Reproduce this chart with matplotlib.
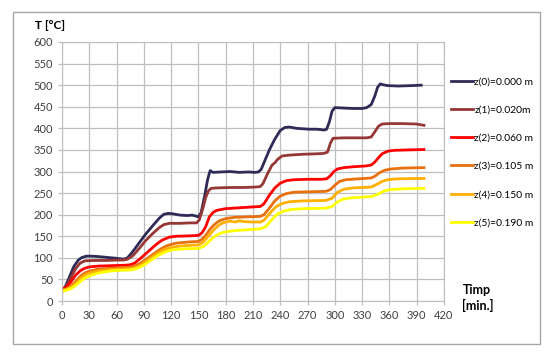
import numpy as np
import matplotlib.pyplot as plt
from matplotlib.patches import Rectangle

# temperaturi citite pe grafic (t in minute, T in grade C)
t0 = [0, 3, 8, 13, 18, 22, 27, 32, 40, 50, 60, 68, 72, 78, 85, 92, 100, 107, 112, 117, 122, 130, 138, 143, 147, 150,
      153, 157, 160, 162, 163, 166, 175, 185, 195, 205, 212, 216, 219, 223, 228, 234, 240, 245, 250, 258, 265, 272,
      280, 285, 288, 291, 294, 297, 300, 310, 320, 330, 335, 340, 344, 347, 350, 353, 358, 370, 385, 395]
T0 = [22, 30, 55, 80, 95, 101, 104, 104, 103, 101, 99, 97, 100, 115, 135, 155, 175, 192, 201, 203, 202, 199, 198, 199,
      197, 195, 205, 245, 280, 296, 302, 298, 299, 300, 298, 299, 298, 299, 305, 325, 350, 375, 395, 402, 403, 400,
      399, 398, 398, 397, 396, 398, 415, 440, 448, 447, 446, 446, 448, 455, 475, 495, 503, 501, 499, 498, 499, 500]

t1 = [0, 5, 10, 15, 20, 25, 35, 50, 60, 68, 72, 78, 85, 92, 100, 107, 112, 118, 130, 140, 148, 151, 155, 158, 161,
      164, 170, 185, 200, 212, 218, 221, 226, 231, 234, 237, 242, 250, 265, 280, 288, 292, 295, 298, 310, 325, 335,
      340, 344, 348, 352, 360, 375, 390, 398]
T1 = [27, 35, 55, 75, 88, 93, 94, 94, 95, 95, 97, 105, 122, 140, 157, 170, 177, 180, 180, 181, 181, 188, 215, 240,
      255, 261, 262, 263, 263, 264, 265, 272, 295, 315, 320, 328, 336, 338, 340, 341, 342, 345, 365, 377, 378, 378,
      378, 380, 392, 405, 410, 411, 411, 410, 407]

t2 = [0, 5, 10, 15, 20, 25, 30, 40, 55, 70, 75, 80, 87, 95, 103, 110, 118, 125, 140, 150, 154, 158, 162, 166, 170,
      180, 195, 210, 218, 222, 228, 234, 240, 247, 255, 270, 285, 291, 295, 299, 303, 310, 320, 335, 340, 344, 348,
      352, 358, 365, 380, 398]
T2 = [27, 32, 45, 60, 70, 76, 79, 81, 82, 83, 84, 88, 100, 115, 130, 141, 148, 150, 151, 152, 158, 172, 195, 205,
      210, 214, 216, 218, 219, 225, 245, 262, 273, 279, 281, 282, 282, 283, 290, 300, 306, 309, 311, 313, 315, 322,
      332, 341, 347, 349, 350, 351]

t3 = [0, 5, 10, 15, 20, 25, 30, 40, 55, 72, 78, 85, 92, 100, 108, 115, 125, 140, 150, 154, 158, 163, 168, 173, 180,
      190, 205, 218, 222, 228, 234, 240, 247, 255, 270, 290, 295, 300, 305, 312, 325, 340, 344, 349, 355, 362, 375, 398]
T3 = [25, 28, 35, 45, 57, 65, 69, 74, 76, 78, 80, 86, 96, 108, 120, 128, 134, 137, 138, 143, 152, 167, 178, 186,
      191, 194, 195, 196, 200, 215, 232, 243, 249, 252, 253, 254, 258, 268, 277, 281, 283, 285, 289, 297, 303, 306,
      308, 309]

t4 = [0, 5, 10, 15, 20, 25, 30, 40, 55, 75, 80, 87, 95, 103, 110, 118, 128, 140, 150, 155, 160, 166, 172, 176, 180,
      185, 190, 195, 200, 210, 218, 222, 228, 235, 242, 250, 265, 290, 297, 303, 310, 320, 340, 346, 352, 358, 368, 398]
T4 = [24, 27, 32, 40, 52, 60, 65, 70, 73, 75, 77, 84, 96, 108, 117, 123, 127, 129, 130, 136, 148, 163, 175, 180,
      183, 185, 183, 186, 184, 183, 183, 187, 202, 218, 226, 230, 232, 233, 238, 252, 259, 262, 264, 270, 277, 281,
      283, 284]

t5 = [0, 5, 10, 15, 20, 25, 30, 40, 55, 75, 82, 90, 98, 106, 114, 122, 135, 150, 156, 162, 168, 174, 182, 195, 210,
      218, 224, 230, 236, 243, 252, 265, 290, 297, 303, 309, 318, 340, 347, 353, 360, 375, 398]
T5 = [22, 25, 29, 36, 45, 53, 58, 65, 70, 72, 75, 83, 95, 106, 114, 119, 121, 122, 127, 139, 150, 157, 161, 164,
      166, 167, 172, 187, 200, 208, 212, 214, 215, 219, 230, 236, 239, 242, 247, 254, 258, 260, 261]

labels = ["z(0)=0.000 m", "z(1)=0.020m", "z(2)=0.060 m", "z(3)=0.105 m", "z(4)=0.150 m", "z(5)=0.190 m"]
culori = ["#2E2B57", "#953735", "#FF0000", "#E8700F", "#FFB000", "#FFFF00"]
serii = [(t0, T0), (t1, T1), (t2, T2), (t3, T3), (t4, T4), (t5, T5)]

plt.rcParams['font.family'] = ['Lato', 'DejaVu Sans']

fig = plt.figure(figsize=(5.5, 3.55), dpi=100)
ax = fig.add_axes([0.1127, 0.152, 0.6945, 0.7297])

# chenarul exterior
fig.patches.append(Rectangle((0.0236, 0.031), 0.958, 0.935, transform=fig.transFigure,
                             fill=False, edgecolor="#A6A6A6", lw=1))

for (t, T), c, lab in zip(serii, culori, labels):
    ax.plot(t, T, color=c, lw=2.0, label=lab)

ax.set_xlim(0, 420)
ax.set_ylim(0, 600)
ax.set_xticks(np.arange(0, 421, 30))
ax.set_yticks(np.arange(0, 601, 50))
ax.grid(True, color="#BFBFBF", lw=0.9)
ax.set_axisbelow(True)
for s in ax.spines.values():
    s.set_color("#BFBFBF")
ax.tick_params(labelsize=8, colors="#BFBFBF", labelcolor="#404040", length=3, width=0.9)

fig.text(0.064, 0.928, "T [°C]", fontsize=8.5, fontweight="bold", va="center", ha="left")
fig.text(0.868, 0.16, "Timp\n[min.]", fontsize=9, fontweight="bold", va="center", ha="center",
         linespacing=1.25)

ax.legend(loc="upper left", bbox_to_anchor=(1.008, 0.88), frameon=False, fontsize=7.4,
          handlelength=2.1, handletextpad=0.15, labelspacing=1.85, borderaxespad=0)

fig.savefig("out.png", dpi=100)
